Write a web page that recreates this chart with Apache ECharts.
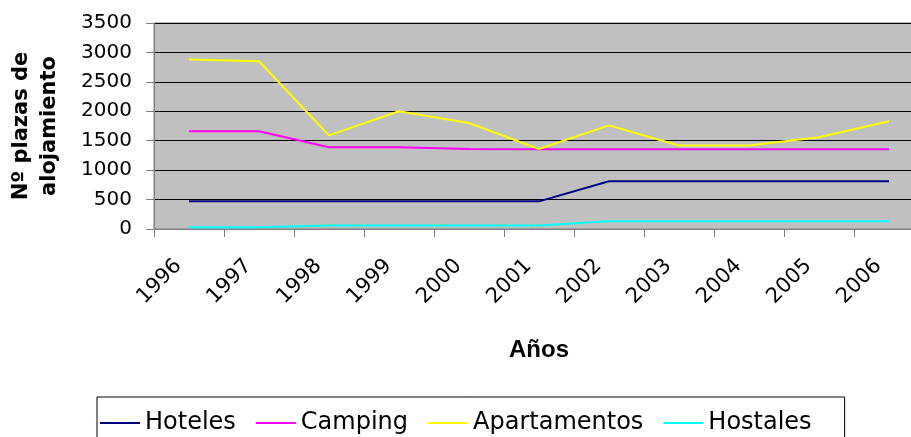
<!DOCTYPE html>
<html>
<head>
<meta charset="utf-8">
<script src="https://cdn.jsdelivr.net/npm/echarts@6/dist/echarts.min.js"></script>
<style>html,body{margin:0;padding:0;background:#fff;}#c{width:911px;height:437px;}</style>
</head>
<body>
<div id="c"></div>
<script>
const years = ['1996','1997','1998','1999','2000','2001','2002','2003','2004','2005','2006'];
const hoteles = [470,470,470,470,470,470,810,810,810,810,810];
const camping = [1660,1660,1390,1390,1360,1355,1355,1355,1355,1355,1355];
const apartamentos = [2880,2850,1590,2000,1800,1360,1760,1420,1420,1560,1830];
const hostales = [30,30,60,60,60,60,130,130,130,130,130];
const yTicks = {min:0, max:3500, interval:500};

const chart = echarts.init(document.getElementById('c'), null, {renderer:'canvas'});
const mk = (name, data, color) => ({
  name, type:'line', data, symbol:'none', animation:false,
  lineStyle:{color, width:2}, itemStyle:{color}
});
chart.setOption({
  animation:false,
  textStyle:{fontFamily:'DejaVu Sans'},
  grid:{left:154, top:23, width:770, height:206, show:true, backgroundColor:'#C0C0C0', borderColor:'#808080', borderWidth:1, containLabel:false, outerBoundsMode:'none'},
  xAxis:{
    type:'category', data:years, boundaryGap:true,
    name:'Años', nameLocation:'middle', nameGap:109,
    nameTextStyle:{fontFamily:'Liberation Sans', fontWeight:'bold', fontSize:24, color:'#000'},
    axisLine:{lineStyle:{color:'#808080', width:1}},
    axisTick:{show:true, length:8, lineStyle:{color:'#808080'}},
    axisLabel:{interval:0, rotate:45, fontSize:21, color:'#000', fontFamily:'DejaVu Sans', margin:23, padding:[0,15,0,0]},
    splitLine:{show:false}
  },
  yAxis:{
    type:'value', min:yTicks.min, max:yTicks.max, interval:yTicks.interval,
    name:'Nº plazas de\nalojamiento', nameLocation:'middle', nameRotate:90, nameGap:90,
    nameTextStyle:{fontFamily:'DejaVu Sans', fontWeight:'bold', fontSize:21, lineHeight:28, color:'#000'},
    axisLine:{show:true, lineStyle:{color:'#808080', width:1}},
    axisTick:{show:true, length:8, lineStyle:{color:'#808080'}},
    axisLabel:{fontSize:20, color:'#000', fontFamily:'DejaVu Sans', margin:22, formatter: v => String(v)},
    splitLine:{show:true, lineStyle:{color:'#000', width:1}}
  },
  legend:{
    left:97, top:397, orient:'horizontal',
    padding:[14,33,14,3], itemGap:20, itemWidth:40, itemHeight:2, icon:'rect',
    borderColor:'#000', borderWidth:1,
    textStyle:{fontSize:24, color:'#000', fontFamily:'DejaVu Sans'},
    data:['Hoteles','Camping','Apartamentos','Hostales']
  },
  series:[
    mk('Hoteles', hoteles, '#000080'),
    mk('Camping', camping, '#FF00FF'),
    mk('Apartamentos', apartamentos, '#FFFF00'),
    mk('Hostales', hostales, '#00FFFF')
  ]
});
</script>
</body>
</html>
